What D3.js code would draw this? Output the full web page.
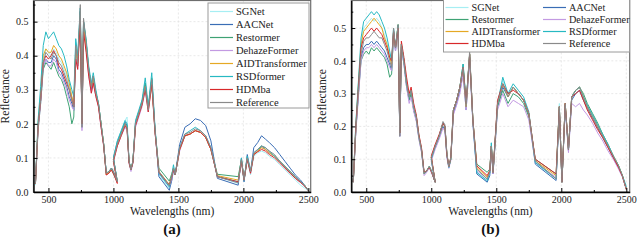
<!DOCTYPE html>
<html>
<head>
<meta charset="UTF-8">
<title>Reflectance spectra</title>
<script src="https://d3js.org/d3.v7.min.js"></script>
<style>
  body { margin: 0; background: #fff; }
</style>
</head>
<body>
<div id="chart"></div>
<script>
// band centres in sample order (VNIR/SWIR overlap near 1000 nm, water bands dropped)
var wavelengths = [400, 420, 440, 460, 480, 500, 520, 540, 560, 580, 600, 620, 640, 660, 680,
  695, 710, 725, 745, 758, 770, 790, 810, 830, 845, 865, 885, 905, 925, 945, 965, 985, 1005, 1030,
  1000, 1030, 1060, 1090, 1105, 1120, 1135, 1150, 1170, 1195, 1220, 1245, 1268, 1295, 1320, 1350,
  1430, 1450, 1462, 1475, 1510, 1550, 1590, 1630, 1670, 1710, 1750, 1800,
  1960, 1985, 2005, 2030, 2055, 2080, 2110, 2140, 2170, 2200, 2240, 2280, 2320, 2360, 2400, 2440, 2470, 2500];

var methods = ["SGNet", "AACNet", "Restormer", "DehazeFormer", "AIDTransformer", "RSDformer", "HDMba", "Reference"];
var xTicks = [500, 1000, 1500, 2000, 2500];
var xMinor = [750, 1250, 1750, 2250];
var yTicks = [0, 0.1, 0.2, 0.3, 0.4, 0.5];
var yMinor = [0.05, 0.15, 0.25, 0.35, 0.45, 0.55];

// ---- panel (a)
var sgnetA = [0.02, 0.20, 0.28, 0.39, 0.42, 0.41, 0.40, 0.42, 0.41, 0.39, 0.38, 0.36, 0.34, 0.31, 0.28,
  0.26, 0.44, 0.39, 0.54, 0.20, 0.50, 0.44, 0.36, 0.31, 0.34, 0.29, 0.26, 0.20, 0.14, 0.055, 0.06, 0.07, 0.055, 0.03,
  0.10, 0.15, 0.18, 0.21, 0.22, 0.095, 0.065, 0.09, 0.20, 0.23, 0.26, 0.32, 0.245, 0.33, 0.18, 0.05,
  0.01, 0.04, 0.075, 0.05, 0.125, 0.165, 0.17, 0.18, 0.175, 0.16, 0.125, 0.045,
  0.025, 0.09, 0.03, 0.095, 0.05, 0.105, 0.115, 0.12, 0.115, 0.105, 0.095, 0.08, 0.065, 0.05, 0.035, 0.02, 0.012, 0.004];
var aacnetA = [0.025, 0.19, 0.27, 0.37, 0.39, 0.38, 0.38, 0.40, 0.39, 0.36, 0.35, 0.33, 0.31, 0.28, 0.26,
  0.24, 0.41, 0.37, 0.53, 0.19, 0.50, 0.43, 0.35, 0.30, 0.33, 0.285, 0.255, 0.195, 0.14, 0.055, 0.06, 0.07, 0.055, 0.03,
  0.10, 0.145, 0.175, 0.205, 0.195, 0.09, 0.065, 0.09, 0.205, 0.235, 0.265, 0.315, 0.245, 0.33, 0.185, 0.045,
  0.005, 0.035, 0.065, 0.05, 0.14, 0.19, 0.20, 0.215, 0.21, 0.195, 0.15, 0.04,
  0.02, 0.10, 0.03, 0.11, 0.06, 0.13, 0.145, 0.165, 0.155, 0.145, 0.13, 0.11, 0.09, 0.07, 0.05, 0.035, 0.02, 0.004];
var restormerA = [0.025, 0.18, 0.26, 0.36, 0.38, 0.37, 0.36, 0.38, 0.36, 0.34, 0.33, 0.31, 0.28, 0.25, 0.20,
  0.22, 0.42, 0.37, 0.53, 0.19, 0.50, 0.44, 0.36, 0.31, 0.34, 0.29, 0.26, 0.20, 0.14, 0.055, 0.06, 0.07, 0.055, 0.03,
  0.095, 0.14, 0.17, 0.20, 0.19, 0.09, 0.065, 0.09, 0.20, 0.23, 0.26, 0.32, 0.245, 0.335, 0.18, 0.07,
  0.032, 0.055, 0.07, 0.05, 0.125, 0.165, 0.17, 0.18, 0.175, 0.16, 0.125, 0.052,
  0.045, 0.095, 0.035, 0.10, 0.06, 0.11, 0.12, 0.135, 0.125, 0.115, 0.105, 0.09, 0.075, 0.06, 0.045, 0.03, 0.02, 0.004];
var dehazeA = [0.025, 0.18, 0.26, 0.37, 0.39, 0.37, 0.37, 0.39, 0.38, 0.35, 0.34, 0.32, 0.30, 0.27, 0.25,
  0.24, 0.40, 0.36, 0.52, 0.18, 0.49, 0.42, 0.34, 0.29, 0.32, 0.28, 0.25, 0.19, 0.135, 0.05, 0.055, 0.065, 0.05, 0.03,
  0.09, 0.135, 0.165, 0.19, 0.18, 0.085, 0.06, 0.085, 0.19, 0.22, 0.25, 0.30, 0.235, 0.32, 0.175, 0.055,
  0.015, 0.04, 0.065, 0.05, 0.12, 0.165, 0.17, 0.18, 0.175, 0.16, 0.125, 0.045,
  0.028, 0.09, 0.035, 0.10, 0.055, 0.11, 0.12, 0.13, 0.125, 0.115, 0.105, 0.09, 0.07, 0.055, 0.04, 0.028, 0.018, 0.004];
var aidA = [0.025, 0.20, 0.29, 0.40, 0.42, 0.41, 0.41, 0.43, 0.42, 0.40, 0.39, 0.37, 0.35, 0.32, 0.28,
  0.26, 0.42, 0.38, 0.52, 0.20, 0.49, 0.43, 0.36, 0.31, 0.335, 0.29, 0.255, 0.20, 0.14, 0.05, 0.06, 0.065, 0.05, 0.03,
  0.095, 0.14, 0.17, 0.20, 0.19, 0.09, 0.065, 0.09, 0.20, 0.23, 0.26, 0.31, 0.245, 0.32, 0.18, 0.06,
  0.022, 0.05, 0.07, 0.05, 0.125, 0.165, 0.17, 0.18, 0.175, 0.16, 0.125, 0.048,
  0.035, 0.095, 0.035, 0.10, 0.06, 0.11, 0.12, 0.13, 0.125, 0.115, 0.105, 0.09, 0.075, 0.06, 0.045, 0.03, 0.02, 0.004];
var rsdA = [0.03, 0.21, 0.31, 0.43, 0.47, 0.45, 0.46, 0.47, 0.45, 0.43, 0.42, 0.40, 0.37, 0.33, 0.30,
  0.28, 0.45, 0.40, 0.54, 0.20, 0.50, 0.45, 0.37, 0.32, 0.35, 0.30, 0.26, 0.20, 0.14, 0.055, 0.06, 0.07, 0.05, 0.03,
  0.10, 0.15, 0.18, 0.21, 0.20, 0.09, 0.065, 0.09, 0.21, 0.24, 0.27, 0.335, 0.25, 0.35, 0.19, 0.055,
  0.015, 0.05, 0.08, 0.05, 0.13, 0.17, 0.18, 0.19, 0.18, 0.165, 0.13, 0.045,
  0.03, 0.10, 0.035, 0.105, 0.06, 0.115, 0.125, 0.135, 0.13, 0.12, 0.105, 0.09, 0.075, 0.06, 0.045, 0.03, 0.02, 0.005];
var hdmbaA = [0.025, 0.19, 0.27, 0.38, 0.40, 0.39, 0.40, 0.415, 0.40, 0.37, 0.36, 0.34, 0.32, 0.30, 0.27,
  0.25, 0.39, 0.36, 0.50, 0.20, 0.47, 0.41, 0.34, 0.29, 0.32, 0.28, 0.25, 0.19, 0.135, 0.05, 0.055, 0.065, 0.05, 0.025,
  0.09, 0.135, 0.165, 0.195, 0.185, 0.085, 0.065, 0.085, 0.195, 0.225, 0.255, 0.30, 0.235, 0.315, 0.175, 0.058,
  0.02, 0.045, 0.065, 0.05, 0.125, 0.165, 0.17, 0.18, 0.175, 0.16, 0.125, 0.045,
  0.03, 0.09, 0.035, 0.095, 0.055, 0.11, 0.118, 0.125, 0.12, 0.11, 0.10, 0.085, 0.07, 0.055, 0.04, 0.028, 0.018, 0.004];
var referenceA = [0.025, 0.19, 0.27, 0.38, 0.41, 0.40, 0.39, 0.41, 0.40, 0.38, 0.37, 0.35, 0.33, 0.30, 0.27,
  0.25, 0.43, 0.38, 0.55, 0.19, 0.51, 0.44, 0.36, 0.31, 0.34, 0.29, 0.26, 0.20, 0.14, 0.055, 0.06, 0.07, 0.055, 0.03,
  0.095, 0.14, 0.17, 0.20, 0.19, 0.09, 0.065, 0.09, 0.20, 0.23, 0.26, 0.31, 0.24, 0.33, 0.18, 0.06,
  0.02, 0.045, 0.07, 0.05, 0.13, 0.17, 0.175, 0.185, 0.18, 0.165, 0.13, 0.045,
  0.027, 0.095, 0.035, 0.10, 0.06, 0.115, 0.125, 0.135, 0.13, 0.12, 0.11, 0.09, 0.075, 0.06, 0.045, 0.03, 0.02, 0.004];

// ---- panel (b)
var sgnetB = [0.03, 0.21, 0.33, 0.45, 0.50, 0.51, 0.52, 0.53, 0.52, 0.53, 0.52, 0.50, 0.48, 0.45, 0.42,
  0.40, 0.50, 0.44, 0.51, 0.18, 0.45, 0.40, 0.33, 0.29, 0.31, 0.26, 0.23, 0.17, 0.13, 0.057, 0.065, 0.078, 0.06, 0.03,
  0.10, 0.14, 0.17, 0.21, 0.20, 0.115, 0.075, 0.10, 0.25, 0.28, 0.32, 0.38, 0.27, 0.42, 0.22, 0.06,
  0.03, 0.055, 0.15, 0.06, 0.27, 0.34, 0.30, 0.32, 0.30, 0.28, 0.24, 0.09,
  0.04, 0.27, 0.03, 0.27, 0.13, 0.29, 0.31, 0.32, 0.29, 0.26, 0.23, 0.20, 0.17, 0.14, 0.11, 0.08, 0.05, 0.02];
var aacnetB = [0.03, 0.19, 0.30, 0.41, 0.44, 0.45, 0.45, 0.46, 0.45, 0.46, 0.45, 0.44, 0.43, 0.41, 0.39,
  0.37, 0.48, 0.43, 0.50, 0.17, 0.44, 0.39, 0.32, 0.28, 0.30, 0.25, 0.22, 0.165, 0.125, 0.055, 0.063, 0.076, 0.058, 0.03,
  0.10, 0.135, 0.165, 0.20, 0.19, 0.11, 0.075, 0.10, 0.24, 0.27, 0.31, 0.36, 0.25, 0.41, 0.21, 0.055,
  0.03, 0.05, 0.13, 0.055, 0.26, 0.32, 0.29, 0.32, 0.30, 0.28, 0.235, 0.085,
  0.035, 0.25, 0.03, 0.26, 0.125, 0.28, 0.30, 0.31, 0.28, 0.255, 0.225, 0.195, 0.165, 0.135, 0.105, 0.075, 0.048, 0.008];
var restormerB = [0.03, 0.19, 0.30, 0.40, 0.42, 0.43, 0.42, 0.44, 0.43, 0.44, 0.43, 0.42, 0.41, 0.39, 0.35,
  0.36, 0.49, 0.44, 0.51, 0.18, 0.45, 0.40, 0.33, 0.28, 0.30, 0.25, 0.22, 0.165, 0.125, 0.055, 0.065, 0.078, 0.06, 0.03,
  0.105, 0.14, 0.17, 0.21, 0.20, 0.115, 0.077, 0.10, 0.25, 0.28, 0.32, 0.39, 0.27, 0.42, 0.22, 0.085,
  0.06, 0.07, 0.14, 0.06, 0.26, 0.31, 0.27, 0.30, 0.29, 0.27, 0.23, 0.10,
  0.055, 0.26, 0.03, 0.27, 0.13, 0.29, 0.31, 0.32, 0.30, 0.27, 0.24, 0.21, 0.175, 0.145, 0.11, 0.08, 0.05, 0.01];
var dehazeB = [0.03, 0.18, 0.29, 0.40, 0.43, 0.44, 0.44, 0.45, 0.44, 0.45, 0.44, 0.43, 0.42, 0.40, 0.38,
  0.37, 0.48, 0.43, 0.50, 0.17, 0.44, 0.39, 0.32, 0.27, 0.29, 0.245, 0.215, 0.16, 0.12, 0.05, 0.06, 0.075, 0.055, 0.03,
  0.095, 0.13, 0.16, 0.195, 0.185, 0.105, 0.072, 0.095, 0.235, 0.265, 0.30, 0.36, 0.25, 0.40, 0.21, 0.065,
  0.04, 0.06, 0.13, 0.055, 0.25, 0.30, 0.26, 0.28, 0.27, 0.26, 0.22, 0.09,
  0.045, 0.25, 0.03, 0.26, 0.12, 0.27, 0.26, 0.27, 0.25, 0.235, 0.21, 0.18, 0.155, 0.125, 0.10, 0.07, 0.045, 0.008];
var aidB = [0.03, 0.20, 0.33, 0.45, 0.49, 0.50, 0.51, 0.52, 0.53, 0.52, 0.51, 0.50, 0.47, 0.45, 0.41,
  0.39, 0.49, 0.44, 0.51, 0.18, 0.45, 0.40, 0.33, 0.29, 0.31, 0.26, 0.23, 0.17, 0.13, 0.057, 0.065, 0.078, 0.06, 0.03,
  0.105, 0.14, 0.17, 0.21, 0.20, 0.115, 0.077, 0.10, 0.25, 0.28, 0.32, 0.38, 0.26, 0.42, 0.22, 0.075,
  0.045, 0.065, 0.14, 0.06, 0.27, 0.33, 0.29, 0.32, 0.30, 0.28, 0.24, 0.095,
  0.05, 0.26, 0.03, 0.27, 0.13, 0.29, 0.31, 0.32, 0.29, 0.26, 0.23, 0.20, 0.17, 0.14, 0.11, 0.08, 0.05, 0.008];
var rsdB = [0.03, 0.21, 0.34, 0.47, 0.52, 0.53, 0.54, 0.55, 0.54, 0.55, 0.54, 0.52, 0.50, 0.47, 0.43,
  0.40, 0.50, 0.44, 0.51, 0.18, 0.45, 0.40, 0.33, 0.29, 0.31, 0.26, 0.23, 0.17, 0.13, 0.057, 0.065, 0.078, 0.06, 0.03,
  0.10, 0.14, 0.17, 0.21, 0.20, 0.115, 0.075, 0.10, 0.25, 0.28, 0.32, 0.39, 0.27, 0.42, 0.22, 0.06,
  0.035, 0.06, 0.15, 0.06, 0.27, 0.35, 0.30, 0.33, 0.31, 0.29, 0.245, 0.09,
  0.04, 0.26, 0.03, 0.265, 0.13, 0.29, 0.31, 0.32, 0.29, 0.265, 0.235, 0.205, 0.175, 0.145, 0.11, 0.08, 0.05, 0.015];
var hdmbaB = [0.03, 0.20, 0.32, 0.44, 0.47, 0.48, 0.49, 0.50, 0.49, 0.50, 0.49, 0.48, 0.46, 0.44, 0.41,
  0.40, 0.49, 0.44, 0.50, 0.18, 0.46, 0.41, 0.35, 0.30, 0.32, 0.27, 0.235, 0.175, 0.135, 0.06, 0.065, 0.075, 0.058, 0.03,
  0.11, 0.145, 0.175, 0.21, 0.20, 0.115, 0.078, 0.105, 0.25, 0.28, 0.32, 0.38, 0.27, 0.42, 0.22, 0.08,
  0.05, 0.065, 0.14, 0.06, 0.28, 0.33, 0.30, 0.31, 0.30, 0.28, 0.24, 0.10,
  0.055, 0.26, 0.03, 0.27, 0.13, 0.29, 0.30, 0.31, 0.28, 0.25, 0.22, 0.19, 0.165, 0.135, 0.105, 0.075, 0.048, 0.008];
var referenceB = [0.03, 0.19, 0.31, 0.42, 0.46, 0.47, 0.47, 0.48, 0.49, 0.48, 0.47, 0.47, 0.45, 0.43, 0.40,
  0.38, 0.50, 0.44, 0.51, 0.17, 0.45, 0.40, 0.33, 0.29, 0.31, 0.26, 0.23, 0.17, 0.13, 0.057, 0.065, 0.078, 0.06, 0.03,
  0.105, 0.14, 0.17, 0.215, 0.205, 0.12, 0.077, 0.105, 0.25, 0.28, 0.32, 0.38, 0.26, 0.43, 0.22, 0.07,
  0.04, 0.06, 0.14, 0.06, 0.27, 0.33, 0.29, 0.32, 0.30, 0.28, 0.24, 0.095,
  0.04, 0.26, 0.03, 0.27, 0.13, 0.29, 0.31, 0.32, 0.29, 0.26, 0.23, 0.20, 0.17, 0.14, 0.11, 0.08, 0.05, 0.008];

var colors = {
  "SGNet": "#a6eef3", "AACNet": "#3a6db5", "Restormer": "#3ea274", "DehazeFormer": "#c39ae2",
  "AIDTransformer": "#e5a824", "RSDformer": "#27b9c2", "HDMba": "#d8282a", "Reference": "#8a8a8a"
};

var FONT = "Liberation Serif";

var panels = [
  { tag: "(a)", left: 33.5, right: 310.7, top: 0.5, bottom: 192, xDomain: [385, 2518], yDomain: [0, 0.562],
    series: [sgnetA, aacnetA, restormerA, dehazeA, aidA, rsdA, hdmbaA, referenceA],
    legend: { x: 208, y: 3, w: 101, h: 105, cols: 1, rowH: 13, colW: 0, fs: 10.5 } },
  { tag: "(b)", left: 351.3, right: 629.7, top: 0.5, bottom: 192, xDomain: [385, 2526], yDomain: [0, 0.584],
    series: [sgnetB, aacnetB, restormerB, dehazeB, aidB, rsdB, hdmbaB, referenceB],
    legend: { x: 443.5, y: -1, w: 186, h: 53, cols: 2, rowH: 12, colW: 97.5, fs: 10.2 } }
];

var svg = d3.select("#chart").append("svg")
  .attr("width", 638)
  .attr("height", 244)
  .attr("font-family", FONT);

panels.forEach(function(p, pi) {
  var x = d3.scaleLinear().domain(p.xDomain).range([p.left, p.right]);
  var y = d3.scaleLinear().domain(p.yDomain).range([p.bottom, p.top]);
  var g = svg.append("g");

  // dashed grid
  g.selectAll(".gx").data(xTicks).enter().append("line")
    .attr("x1", function(d) { return x(d); }).attr("x2", function(d) { return x(d); })
    .attr("y1", p.top).attr("y2", p.bottom)
    .attr("stroke", "#e2e2e2").attr("stroke-dasharray", "2,2").attr("stroke-width", 0.8);
  g.selectAll(".gy").data(yTicks.slice(1)).enter().append("line")
    .attr("x1", p.left).attr("x2", p.right)
    .attr("y1", function(d) { return y(d); }).attr("y2", function(d) { return y(d); })
    .attr("stroke", "#e2e2e2").attr("stroke-dasharray", "2,2").attr("stroke-width", 0.8);

  svg.append("clipPath").attr("id", "clip" + pi).append("rect")
    .attr("x", p.left).attr("y", p.top).attr("width", p.right - p.left).attr("height", p.bottom - p.top);

  var line = d3.line()
    .x(function(d, i) { return x(wavelengths[i]); })
    .y(function(d) { return y(d); });

  g.append("g").attr("clip-path", "url(#clip" + pi + ")")
    .selectAll("path").data(p.series).enter().append("path")
    .attr("d", line)
    .attr("fill", "none")
    .attr("stroke", function(d, i) { return colors[methods[i]]; })
    .attr("stroke-width", 1)
    .attr("stroke-linejoin", "round");

  // frame
  g.append("rect")
    .attr("x", p.left).attr("y", p.top).attr("width", p.right - p.left).attr("height", p.bottom - p.top)
    .attr("fill", "none").attr("stroke", "#6e6e6e").attr("stroke-width", 1.2);

  var xAxis = g.append("g").attr("transform", "translate(0," + p.bottom + ")")
    .call(d3.axisBottom(x).tickValues(xTicks).tickFormat(d3.format("d"))
      .tickSizeInner(-4).tickSizeOuter(0).tickPadding(4));
  g.append("g").attr("transform", "translate(0," + p.bottom + ")")
    .call(d3.axisBottom(x).tickValues(xMinor).tickSizeInner(-2).tickSizeOuter(0).tickFormat(""))
    .select(".domain").remove();
  var yAxis = g.append("g").attr("transform", "translate(" + p.left + ",0)")
    .call(d3.axisLeft(y).tickValues(yTicks).tickFormat(d3.format(".1f")).tickSizeInner(-4).tickSizeOuter(0).tickPadding(5));
  g.append("g").attr("transform", "translate(" + p.left + ",0)")
    .call(d3.axisLeft(y).tickValues(yMinor.filter(function(v) { return v < p.yDomain[1]; }))
      .tickSizeInner(-2).tickSizeOuter(0).tickFormat(""))
    .select(".domain").remove();

  [xAxis, yAxis].forEach(function(ax) {
    ax.attr("font-family", FONT).attr("font-size", 10);
    ax.select(".domain").attr("stroke", "#000").attr("stroke-width", 1.4);
    ax.selectAll("text").attr("fill", "#222");
  });

  var cx = (p.left + p.right) / 2;
  g.append("text").attr("x", cx).attr("y", 215).attr("text-anchor", "middle")
    .attr("font-family", FONT)
    .attr("font-size", "11.5px").attr("fill", "#222").text("Wavelengths (nm)");
  g.append("text").attr("transform", "translate(" + (p.left - 25) + "," + ((p.top + p.bottom) / 2) + ") rotate(-90)")
    .attr("font-family", FONT)
    .attr("text-anchor", "middle").attr("font-size", "11.5px").attr("fill", "#222").text("Reflectance");
  g.append("text").attr("x", cx).attr("y", 234).attr("text-anchor", "middle")
    .attr("font-family", FONT)
    .attr("font-size", "15px").attr("font-weight", "bold").attr("fill", "#111").text(p.tag);

  // legend
  var L = p.legend;
  var lg = g.append("g");
  lg.append("rect").attr("x", L.x).attr("y", L.y).attr("width", L.w).attr("height", L.h)
    .attr("fill", "#fff").attr("stroke", "#9a9a9a").attr("stroke-width", 1);
  var item = lg.selectAll(".item").data(methods).enter().append("g")
    .attr("transform", function(d, i) {
      var col = i % L.cols, row = Math.floor(i / L.cols);
      return "translate(" + (L.x + 2 + col * L.colW) + "," + (L.y + 8.5 + row * L.rowH) + ")";
    });
  item.append("line").attr("x1", 0).attr("x2", 23).attr("y1", 0).attr("y2", 0)
    .attr("stroke", function(d) { return colors[d]; }).attr("stroke-width", 1.2);
  item.append("text").attr("x", 26).attr("y", 0).attr("dy", "0.35em")
    .attr("font-family", FONT)
    .attr("font-size", L.fs + "px").attr("fill", "#222").text(function(d) { return d; });
});
</script>
</body>
</html>
